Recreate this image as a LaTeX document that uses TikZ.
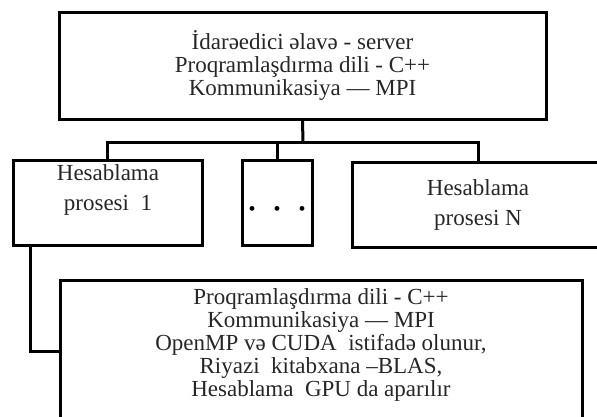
\documentclass[tikz,border=0pt]{standalone}
\usepackage{fontspec}
\setmainfont{Liberation Serif}
\usetikzlibrary{positioning}

\begin{document}
\begin{tikzpicture}[x=1pt, y=-1pt,
    box/.style={draw=black, line width=3pt, minimum height=85pt, inner sep=0pt},
    boxtext/.style={font=\fontsize{23}{23}\selectfont, align=center, text=black!85},
    proctext/.style={font=\fontsize{23}{30}\selectfont, align=center, text=black!85},
    link/.style={line width=3pt}
]
    \useasboundingbox (0,0) rectangle (597,416);

    % Server box
    \node[box, boxtext, minimum width=487pt, minimum height=107pt] (server) at (302.5,65.5)
        {İdarəedici əlavə - server\\Proqramlaşdırma dili - C++\\Kommunikasiya — MPI};

    % Computing processes
    \node[box, minimum width=189pt] (proc1) at (107.5,202.5) {};
    \node[proctext] (proc1text) at (108,190) {Hesablama\\prosesi\ \ 1};
    \node[box, minimum width=70pt] (dots) at (277,202.5) {};
    \node[font=\fontsize{20}{20}\selectfont] (dotsmark) at (277,211)
        {\textbullet\hspace{18pt}\textbullet\hspace{18pt}\textbullet};
    \node[box, proctext, minimum width=252pt] (procN) at (478,205) {Hesablama\\prosesi N};

    % GPU box, text sits a little above its middle
    \node[box, minimum width=522pt, minimum height=142pt] (gpu) at (321,351) {};
    \node[boxtext] (gputext) at (321,345)
        {Proqramlaşdırma dili - C++\\Kommunikasiya — MPI\\OpenMP və CUDA\ \ istifadə olunur,\\Riyazi\ \ kitabxana –BLAS,\\Hesablama\ \ GPU da aparılır};

    % Links
    \coordinate (bus) at (303,142);
    \draw[link] (server.south) -- (bus);
    \draw[link] (proc1.north) |- (bus) -| (procN.north);
    \draw[link] (bus -| dots.north) -- (dots.north);
    \draw[link] ([xshift=19pt]proc1.south west) |- (gpu.west);
\end{tikzpicture}
\end{document}
